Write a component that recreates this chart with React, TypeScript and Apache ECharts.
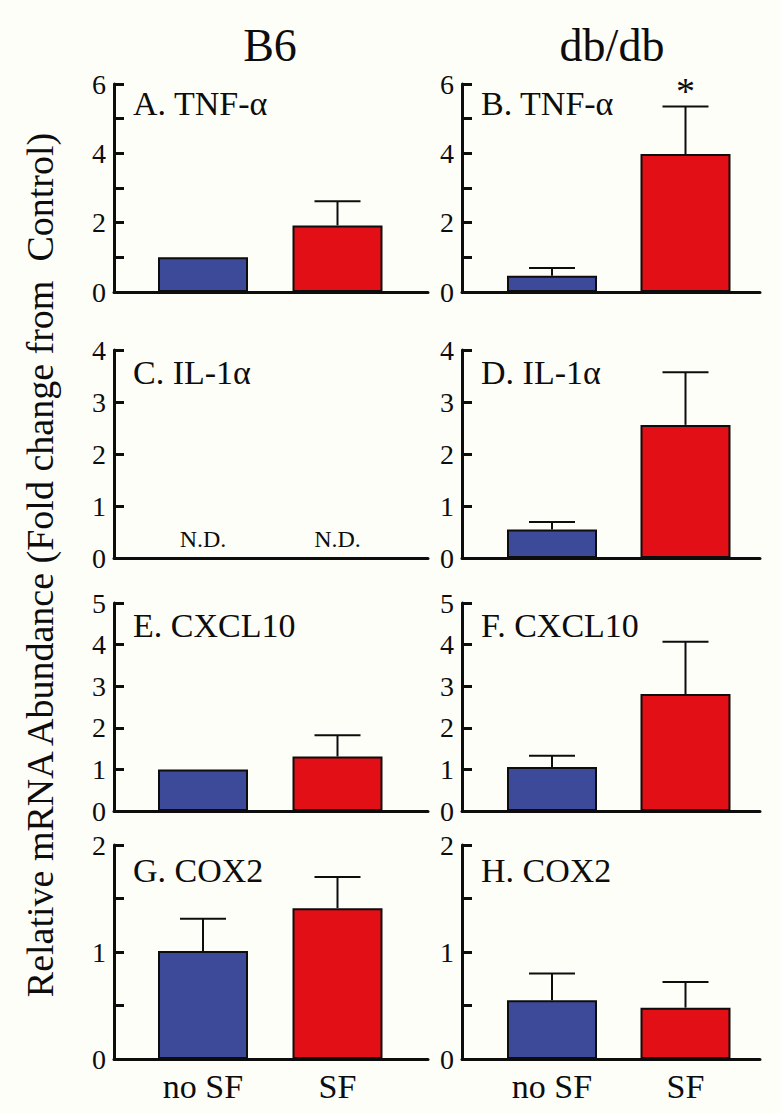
import React, { useEffect, useRef } from 'react';
import * as echarts from 'echarts';

// ---- data ----
const CATEGORIES = ['no SF', 'SF'];
const COLUMN_TITLES = ['B6', 'db/db'];
const Y_TITLE = 'Relative mRNA Abundance (Fold change from  Control)';
const PANEL_TITLES = ['A. TNF-α', 'B. TNF-α', 'C. IL-1α', 'D. IL-1α', 'E. CXCL10', 'F. CXCL10', 'G. COX2', 'H. COX2'];
const Y_MAX = [6, 6, 4, 4, 5, 5, 2, 2];
const Y_STEP = [1, 1, 1, 1, 1, 1, 0.5, 0.5];
const Y_LABEL_STEP = [2, 2, 1, 1, 1, 1, 1, 1];
const NO_SF_MEAN: (number | null)[] = [1.0, 0.47, null, 0.55, 1.0, 1.06, 1.01, 0.55];
const NO_SF_UPPER: (number | null)[] = [null, 0.69, null, 0.69, null, 1.33, 1.31, 0.8];
const SF_MEAN: (number | null)[] = [1.92, 3.98, null, 2.56, 1.31, 2.81, 1.41, 0.48];
const SF_UPPER: (number | null)[] = [2.62, 5.35, null, 3.57, 1.82, 4.07, 1.7, 0.72];
const SF_SIGNIFICANT = [false, true, false, false, false, false, false, false];
const NOT_DETECTED = [false, false, true, false, false, false, false, false];

// ---- layout / style ----
const ROW_TOP = [84, 350, 603, 845];
const ROW_H = [208, 208, 208, 214];
const COL_LEFT = [114, 462];
const COL_W = [314, 298];
const BAR_OFFSET = [89, 90];
const BAR_UNIT = [134.5, 133.5];
const INK = '#0d0d0d';
const BLUE = '#3d4a99';
const RED = '#e30f17';
const FONT = 'Liberation Serif';

export default function App() {
  const ref = useRef<HTMLDivElement>(null);
  useEffect(() => {
    const chart = echarts.init(ref.current!, null, { renderer: 'svg' });
    const grid: any[] = [];
    const xAxis: any[] = [];
    const yAxis: any[] = [];
    const series: any[] = [];
    const graphic: any[] = [];

    for (let i = 0; i < 8; i++) {
      const row = Math.floor(i / 2);
      const col = i % 2;
      const left = COL_LEFT[col];
      const width = COL_W[col];
      const top = ROW_TOP[row];
      const height = ROW_H[row];
      grid.push({ left, top, width, height });
      const xmin = -BAR_OFFSET[col] / BAR_UNIT[col];
      const xmax = (width - BAR_OFFSET[col]) / BAR_UNIT[col];
      xAxis.push({
        type: 'value',
        gridIndex: i,
        min: xmin,
        max: xmax,
        axisLine: { show: true, onZero: false, lineStyle: { color: INK, width: 3 } },
        axisTick: { show: false },
        splitLine: { show: false },
        axisLabel:
          row === 3
            ? {
                show: true,
                customValues: [0, 1],
                formatter: (v: number) => CATEGORIES[Math.round(v)] ?? '',
                fontSize: 34,
                color: INK,
                fontFamily: FONT,
                margin: 10,
              }
            : { show: false },
      });
      const lstep = Y_LABEL_STEP[i];
      yAxis.push({
        type: 'value',
        gridIndex: i,
        min: 0,
        max: Y_MAX[i],
        interval: Y_STEP[i],
        axisLine: { show: true, onZero: false, lineStyle: { color: INK, width: 3 } },
        axisTick: { show: true, inside: true, length: 10, lineStyle: { color: INK, width: 3 } },
        splitLine: { show: false },
        axisLabel: {
          fontSize: 28,
          color: INK,
          fontFamily: FONT,
          margin: 8,
          formatter: (v: number) => (Math.abs(v / lstep - Math.round(v / lstep)) < 1e-6 ? String(v) : ''),
        },
      });

      const barData: any[] = [];
      if (NO_SF_MEAN[i] != null) barData.push({ value: [0, NO_SF_MEAN[i]], itemStyle: { color: BLUE } });
      if (SF_MEAN[i] != null) barData.push({ value: [1, SF_MEAN[i]], itemStyle: { color: RED } });
      series.push({
        type: 'bar',
        xAxisIndex: i,
        yAxisIndex: i,
        barWidth: 90,
        data: barData,
        itemStyle: { borderColor: INK, borderWidth: 2 },
        z: 2,
      });

      const errData: any[] = [];
      if (NO_SF_MEAN[i] != null && NO_SF_UPPER[i] != null) errData.push([0, NO_SF_MEAN[i], NO_SF_UPPER[i]]);
      if (SF_MEAN[i] != null && SF_UPPER[i] != null) errData.push([1, SF_MEAN[i], SF_UPPER[i]]);
      if (errData.length) {
        series.push({
          type: 'custom',
          xAxisIndex: i,
          yAxisIndex: i,
          data: errData,
          encode: { x: 0, y: [1, 2] },
          z: 3,
          renderItem: (_p: any, api: any) => {
            const x = api.value(0);
            const p0 = api.coord([x, api.value(1)]);
            const p1 = api.coord([x, api.value(2)]);
            return {
              type: 'group',
              children: [
                { type: 'line', shape: { x1: p0[0], y1: p0[1], x2: p1[0], y2: p1[1] }, style: { stroke: INK, lineWidth: 2 } },
                { type: 'line', shape: { x1: p1[0] - 23, y1: p1[1], x2: p1[0] + 23, y2: p1[1] }, style: { stroke: INK, lineWidth: 2 } },
              ],
            };
          },
        });
      }

      if (SF_SIGNIFICANT[i] && SF_UPPER[i] != null) {
        series.push({
          type: 'custom',
          xAxisIndex: i,
          yAxisIndex: i,
          data: [[1, SF_UPPER[i]]],
          encode: { x: 0, y: 1 },
          z: 3,
          renderItem: (_p: any, api: any) => {
            const p = api.coord([api.value(0), api.value(1)]);
            return {
              type: 'text',
              x: p[0],
              y: p[1] - 16,
              style: { text: '*', fontSize: 38, fontFamily: FONT, fill: INK, align: 'center', verticalAlign: 'middle' },
            };
          },
        });
      }

      if (NOT_DETECTED[i]) {
        series.push({
          type: 'custom',
          xAxisIndex: i,
          yAxisIndex: i,
          data: [[0, 0], [1, 0]],
          encode: { x: 0, y: 1 },
          z: 3,
          renderItem: (_p: any, api: any) => {
            const p = api.coord([api.value(0), api.value(1)]);
            return {
              type: 'text',
              x: p[0],
              y: p[1] - 19,
              style: { text: 'N.D.', fontSize: 24, fontFamily: FONT, fill: INK, align: 'center', verticalAlign: 'middle' },
            };
          },
        });
      }

      const titleOffsetY = [19, 22, 22, 25][row];
      graphic.push({
        type: 'text',
        x: left + 19,
        y: top + titleOffsetY,
        style: { text: PANEL_TITLES[i], fontSize: 34, fontFamily: FONT, fill: INK, align: 'left', verticalAlign: 'middle' },
      });
    }

    graphic.push({
      type: 'text',
      x: 270,
      y: 45,
      style: { text: COLUMN_TITLES[0], fontSize: 46, fontFamily: FONT, fill: INK, align: 'center', verticalAlign: 'middle' },
    });
    graphic.push({
      type: 'text',
      x: 612,
      y: 45,
      style: { text: COLUMN_TITLES[1], fontSize: 46, fontFamily: FONT, fill: INK, align: 'center', verticalAlign: 'middle' },
    });
    graphic.push({
      type: 'text',
      x: 40,
      y: 565,
      rotation: Math.PI / 2,
      style: { text: Y_TITLE, fontSize: 38, fontFamily: FONT, fill: INK, align: 'center', verticalAlign: 'middle' },
    });

    chart.setOption({
      animation: false,
      backgroundColor: '#fefef9',
      grid,
      xAxis,
      yAxis,
      series,
      graphic,
    });
    return () => chart.dispose();
  }, []);
  return <div ref={ref} style={{ position: 'absolute', left: 0, top: 0, width: 781, height: 1113 }} />;
}
